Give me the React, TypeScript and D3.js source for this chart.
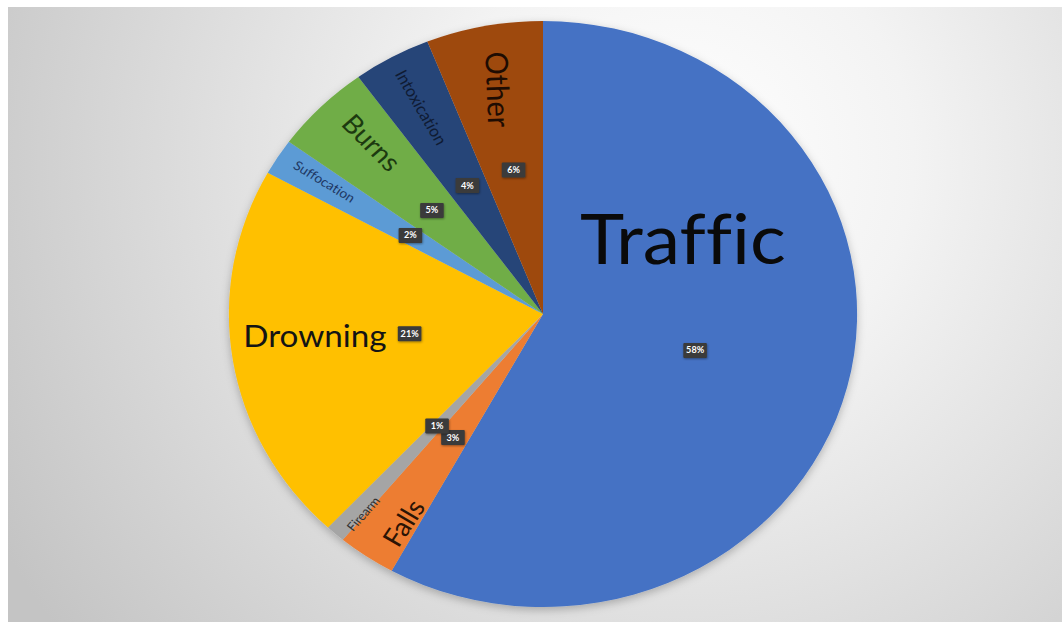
import React from "react";
import * as d3 from "d3";

const categories = ["Traffic", "Falls", "Firearm", "Drowning", "Suffocation", "Burns", "Intoxication", "Other"];
const values = [58, 3, 1, 21, 2, 5, 4, 6];
const colors = ["#4472C4", "#ED7D31", "#A5A5A5", "#FFC000", "#5B9BD5", "#70AD47", "#264478", "#9E480E"];
const labelColors = ["#0a0a0a", "#2b1405", "#333333", "#141414", "#1f3864", "#1c3a10", "#0f1b33", "#1e0c02"];

// layout (styling) constants per category
const labelSizes = [70, 26, 12, 31, 13, 26, 16, 29];
const labelRadius = [0.514, 0.84, 0.89, 0.73, 0.83, 0.8, 0.805, 0.78];
const labelShift = [-44.3, -2.3, -1.4, 3.1, 0.6, 2, 0, 0.2];
// "r" = along the radius, number = fixed rotation in degrees
const labelRotate: (string | number)[] = [0, "r", "r", 0, "r", "r", "r", 88];
const pctRadius = [0.5, 0.51, 0.51, 0.43, 0.5, 0.5, 0.5, 0.5];

const W = 1062;
const H = 622;
const CX = 543;
const CY = 314;
const R = 293;
const SX = 1.072;

export default function App() {
  const data = categories.map((c, i) => ({ name: c, value: values[i], i }));
  const pie = d3.pie<any>().sort(null).value((d: any) => d.value);
  const arcs = pie(data);
  const arc = d3.arc<any>().innerRadius(0).outerRadius(R);
  const toRad = Math.PI / 180;
  const polar = (a: number, r: number) => [Math.sin(a) * r, -Math.cos(a) * r];

  return (
    <svg width={W} height={H} style={{ position: "absolute", left: 0, top: 0 }}>
      <defs>
        <radialGradient id="bg" gradientUnits="userSpaceOnUse" cx={680} cy={160} r={780}>
          <stop offset="0" stopColor="#ffffff" />
          <stop offset="0.3" stopColor="#f3f3f3" />
          <stop offset="1" stopColor="#c4c4c4" />
        </radialGradient>
        <filter id="sh" x="-10%" y="-10%" width="120%" height="125%">
          <feDropShadow dx="0" dy="3" stdDeviation="4" floodColor="#000" floodOpacity="0.25" />
        </filter>
        <filter id="bsh" x="-30%" y="-30%" width="160%" height="160%">
          <feDropShadow dx="0.5" dy="1" stdDeviation="0.8" floodColor="#000" floodOpacity="0.4" />
        </filter>
      </defs>
      <rect x={0} y={0} width={W} height={H} fill="#ffffff" />
      <rect x={8} y={7} width={W - 8} height={H - 7} fill="url(#bg)" />
      <g transform={`translate(${CX},${CY}) scale(${SX},1)`}>
        <g filter="url(#sh)">
          {arcs.map((a: any) => (
            <path key={a.data.name} d={arc(a) as string} fill={colors[a.data.i]} />
          ))}
        </g>
        {arcs.map((a: any) => {
          const i = a.data.i;
          const mid = (a.startAngle + a.endAngle) / 2 + labelShift[i] * toRad;
          const [x, y] = polar(mid, labelRadius[i] * R);
          const rot =
            labelRotate[i] === "r"
              ? Math.atan2(Math.cos(mid), -Math.sin(mid)) / toRad
              : (labelRotate[i] as number);
          return (
            <text
              key={"l" + i}
              transform={`translate(${x},${y}) rotate(${rot})`}
              textAnchor="middle"
              dy="0.36em"
              fontFamily="Lato, 'Open Sans', sans-serif"
              fontSize={labelSizes[i]}
              fill={labelColors[i]}
              style={{ fontVariantLigatures: "none", fontFeatureSettings: "'liga' 0" }}
            >
              {a.data.name}
            </text>
          );
        })}
        {arcs.map((a: any) => {
          const i = a.data.i;
          const mid = (a.startAngle + a.endAngle) / 2;
          const [x, y] = polar(mid, pctRadius[i] * R);
          return (
            <g key={"p" + i} transform={`translate(${x},${y})`}>
              <rect x={-11} y={-7.5} width={22} height={15} fill="#3a3a3a" rx={1} filter="url(#bsh)" />
              <text
                textAnchor="middle"
                dy="0.35em"
                fontFamily="Lato, 'Open Sans', sans-serif"
                fontWeight="bold"
                fontSize={8.5}
                fill="#ffffff"
              >
                {a.data.value + "%"}
              </text>
            </g>
          );
        })}
      </g>
    </svg>
  );
}
